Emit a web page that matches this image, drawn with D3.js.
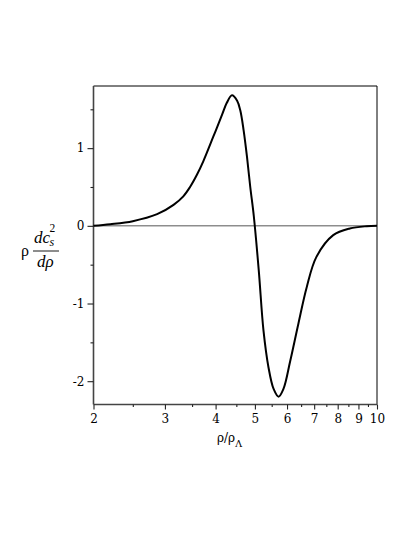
<!DOCTYPE html>
<html>
<head>
<meta charset="utf-8">
<script src="https://cdn.jsdelivr.net/npm/d3@7"></script>
<style>
  html, body { margin: 0; padding: 0; background: #fff; }
  svg { display: block; }
</style>
</head>
<body>
<script>
// Data
const rhoRatio = [2.0, 2.2, 2.5, 2.87, 3.15, 3.33, 3.46, 3.60, 3.73, 3.95, 4.15, 4.26, 4.39, 4.52, 4.60, 4.69, 4.78, 4.87, 4.97, 5.11, 5.25, 5.40, 5.56, 5.72, 5.88, 6.11, 6.40, 6.71, 7.09, 7.80, 8.57, 9.43, 10.0];
const derivative = [0.00, 0.02, 0.06, 0.15, 0.27, 0.38, 0.50, 0.66, 0.83, 1.15, 1.43, 1.58, 1.68, 1.61, 1.49, 1.23, 0.89, 0.50, 0.12, -0.57, -1.35, -1.82, -2.10, -2.20, -2.10, -1.74, -1.26, -0.79, -0.40, -0.12, -0.034, -0.005, 0.0];
const xMajorTicks = [2, 3, 4, 5, 6, 7, 8, 9, 10];
const xMinorTicks = [2.5, 3.5, 4.5, 5.5, 6.5, 7.5, 8.5, 9.5];
const yMajorTicks = [-2, -1, 0, 1];
const yMinorTicks = [-1.5, -0.5, 0.5, 1.5];

const W = 415, H = 537;
const svg = d3.select("body").append("svg").attr("width", W).attr("height", H)
  .style("background", "#fff");

const x = d3.scaleLog().domain([2, 10]).range([93.5, 377]);
const y = d3.scaleLinear().domain([-2.3, 1.8]).range([404.5, 86]);

const tickFont = "'DejaVu Serif', serif";

// frame: top and right
svg.append("line").attr("x1", x(2)).attr("x2", x(10)).attr("y1", y(1.8)).attr("y2", y(1.8))
  .attr("stroke", "#000").attr("stroke-width", 1);
svg.append("line").attr("x1", x(10)).attr("x2", x(10)).attr("y1", y(1.8)).attr("y2", y(-2.3))
  .attr("stroke", "#000").attr("stroke-width", 1);

// zero line
svg.append("line").attr("x1", x(2)).attr("x2", x(10)).attr("y1", y(0)).attr("y2", y(0))
  .attr("stroke", "#555").attr("stroke-width", 1);

// x axis
const xAxis = d3.axisBottom(x).tickValues(xMajorTicks).tickFormat(d3.format("d")).tickSize(5).tickPadding(5);
const gx = svg.append("g").attr("transform", `translate(0,${y(-2.3)})`).call(xAxis);
const xMinor = d3.axisBottom(x).tickValues(xMinorTicks).tickFormat("").tickSize(2.5);
const gxm = svg.append("g").attr("transform", `translate(0,${y(-2.3)})`).call(xMinor);
gxm.select(".domain").remove();

// y axis
const yAxis = d3.axisLeft(y).tickValues(yMajorTicks).tickFormat(d3.format("d")).tickSize(6).tickPadding(3);
const gy = svg.append("g").attr("transform", `translate(${x(2)},0)`).call(yAxis);
const yMinor = d3.axisLeft(y).tickValues(yMinorTicks).tickFormat("").tickSize(3);
const gym = svg.append("g").attr("transform", `translate(${x(2)},0)`).call(yMinor);
gym.select(".domain").remove();

[gx, gy, gxm, gym].forEach(g => {
  g.selectAll(".domain").attr("stroke", "#444").attr("stroke-width", 1.6);
  g.selectAll(".tick line").attr("stroke", "#222").attr("stroke-width", 1.1);
  g.selectAll(".tick text").attr("font-family", tickFont).attr("font-size", 12).attr("fill", "#000");
});
gy.selectAll(".tick text").text(d => d < 0 ? "-" + Math.abs(d) : d);
gy.select(".domain").attr("d", `M0,${y(1.8)}V${y(-2.3)}`);
gx.select(".domain").attr("d", `M${x(2)},0H${x(10)}`);

// curve
const line = d3.line().x((d, i) => x(rhoRatio[i])).y(d => y(d)).curve(d3.curveCatmullRom.alpha(0.5));
svg.append("path").datum(derivative).attr("d", line)
  .attr("fill", "none").attr("stroke", "#000").attr("stroke-width", 2).attr("stroke-linejoin", "round");

// x title
const xt = svg.append("text").attr("x", 217).attr("y", 442)
  .attr("font-family", tickFont).attr("font-size", 12).attr("fill", "#000");
xt.append("tspan").text("ρ/ρ");
xt.append("tspan").attr("dy", 5).attr("font-size", 9.5).text("Λ");

// y title
const yl = svg.append("g").attr("font-family", "'Liberation Serif', serif").attr("fill", "#000");
yl.append("text").attr("x", 21).attr("y", 256).attr("font-size", 16).text("ρ");
yl.append("text").attr("x", 34).attr("y", 243).attr("font-size", 17).attr("font-style", "italic").text("dc");
yl.append("text").attr("x", 49.5).attr("y", 232).attr("font-size", 11.5).text("2");
yl.append("text").attr("x", 49.5).attr("y", 246).attr("font-size", 12).attr("font-style", "italic").text("s");
yl.append("line").attr("x1", 33).attr("x2", 59).attr("y1", 251).attr("y2", 251).attr("stroke", "#000").attr("stroke-width", 0.9);
yl.append("text").attr("x", 37).attr("y", 267).attr("font-size", 17).attr("font-style", "italic").text("dρ");
</script>
</body>
</html>
